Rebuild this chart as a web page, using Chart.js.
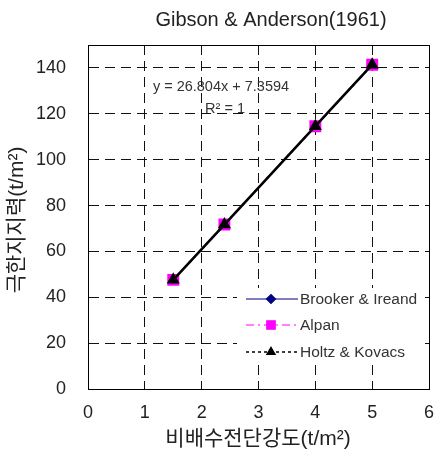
<!DOCTYPE html>
<html>
<head>
<meta charset="utf-8">
<script src="https://cdn.jsdelivr.net/npm/chart.js@4"></script>
<style>
  body { margin: 0; background: #fff; }
  #wrap { width: 438px; height: 455px; }
</style>
</head>
<body>
<div id="wrap"><canvas id="chart" width="438" height="455"></canvas></div>
<script>
const FONT = "'Liberation Sans', 'Noto Sans CJK KR', sans-serif";

// data
const xValues = [1.5, 2.4, 4.0, 5.0];
const brooker = [47.6, 71.7, 114.6, 141.4];
const alpan = [47.6, 71.7, 114.6, 141.4];
const holtz = [47.6, 71.7, 114.6, 141.4];
const xTicks = [0, 1, 2, 3, 4, 5, 6];
const yTicks = [0, 20, 40, 60, 80, 100, 120, 140];

const pts = arr => xValues.map((x, i) => ({ x: x, y: arr[i] }));

// frame, titles, equation, legend
const extras = {
  id: 'extras',
  afterDraw(chart) {
    const ctx = chart.ctx;
    const a = chart.chartArea;
    ctx.save();

    // legend box hides the grid behind it
    ctx.fillStyle = '#fff';
    ctx.fillRect(237, 288, 188, 75);

    ctx.strokeStyle = '#000';
    ctx.lineWidth = 1;
    ctx.setLineDash([]);
    ctx.strokeRect(a.left + 0.5, a.top + 0.5, a.right - a.left, a.bottom - a.top);

    ctx.fillStyle = '#222';
    ctx.textAlign = 'center';
    ctx.textBaseline = 'middle';
    ctx.font = '20px ' + FONT;
    ctx.fillText('Gibson & Anderson(1961)', 271, 20);

    ctx.font = '21px ' + FONT;
    ctx.fillText('비배수전단강도(t/m²)', 258, 439);

    ctx.save();
    ctx.translate(17, 220);
    ctx.rotate(-Math.PI / 2);
    ctx.fillText('극한지지력(t/m²)', 0, 0);
    ctx.restore();

    ctx.font = '14.5px ' + FONT;
    ctx.fillStyle = '#333';
    ctx.fillText('y = 26.804x + 7.3594', 221, 87);
    ctx.fillText('R² = 1', 225, 109);

    // legend
    const items = [
      { label: 'Brooker & Ireand', color: '#000080', dash: [], shape: 'rectRot', y: 299 },
      { label: 'Alpan', color: '#ff00ff', dash: [8, 4, 2, 4], shape: 'rect', y: 325 },
      { label: 'Holtz & Kovacs', color: '#000', dash: [3, 3], shape: 'triangle', y: 352 }
    ];
    items.forEach(it => {
      ctx.strokeStyle = it.color;
      ctx.lineWidth = it.color === '#000' ? 1.5 : 1.2;
      ctx.setLineDash(it.dash);
      ctx.beginPath();
      ctx.moveTo(246, it.y);
      ctx.lineTo(298, it.y);
      ctx.stroke();
      ctx.setLineDash([]);
      ctx.fillStyle = it.color;
      Chart.helpers.drawPoint(ctx, { pointStyle: it.shape, radius: it.shape === 'rect' ? 6 : 4.5, borderWidth: 1 }, 271, it.y);
      ctx.fillStyle = '#333';
      ctx.textAlign = 'left';
      ctx.font = '15.5px ' + FONT;
      ctx.fillText(it.label, 300, it.y + 1);
    });
    ctx.restore();
  }
};

new Chart(document.getElementById('chart'), {
  type: 'line',
  data: {
    datasets: [
      {
        label: 'Brooker & Ireand',
        data: pts(brooker),
        borderColor: '#000080',
        backgroundColor: '#000080',
        borderWidth: 1.2,
        pointStyle: 'rectRot',
        pointRadius: 4,
        order: 3
      },
      {
        label: 'Alpan',
        data: pts(alpan),
        borderColor: '#ff00ff',
        backgroundColor: '#ff00ff',
        borderWidth: 2,
        borderDash: [8, 4, 2, 4],
        pointStyle: 'rect',
        pointRadius: 7,
        order: 2
      },
      {
        label: 'trend',
        data: pts(holtz),
        borderColor: '#000',
        borderWidth: 2.5,
        pointRadius: 0,
        order: 1
      },
      {
        label: 'Holtz & Kovacs',
        data: pts(holtz),
        borderColor: '#000',
        backgroundColor: '#000',
        borderWidth: 1.5,
        borderDash: [3, 3],
        pointStyle: 'triangle',
        pointRadius: 6,
        order: 0
      }
    ]
  },
  options: {
    responsive: false,
    animation: false,
    layout: { padding: { top: 45, right: 9, left: 0, bottom: 0 } },
    plugins: {
      legend: { display: false },
      tooltip: { enabled: false }
    },
    scales: {
      x: {
        type: 'linear',
        min: 0,
        max: 6,
        afterBuildTicks: s => { s.ticks = xTicks.map(v => ({ value: v })); },
        afterFit: s => { s.height = 66; s.paddingLeft = 0; s.paddingRight = 0; },
        grid: { color: '#111', lineWidth: 1, drawTicks: false, tickLength: 0 },
        border: { color: '#000', dash: [10, 6] },
        ticks: { color: '#222', font: { family: FONT, size: 18 }, padding: 13 }
      },
      y: {
        min: 0,
        max: 150,
        afterBuildTicks: s => { s.ticks = yTicks.map(v => ({ value: v })); },
        afterFit: s => { s.width = 88; s.paddingTop = 0; s.paddingBottom = 0; },
        grid: { color: '#111', lineWidth: 1, drawTicks: false, tickLength: 0 },
        border: { color: '#000', dash: [10, 6] },
        ticks: { color: '#222', font: { family: FONT, size: 18 }, padding: 22 }
      }
    }
  },
  plugins: [extras]
});
</script>
</body>
</html>
